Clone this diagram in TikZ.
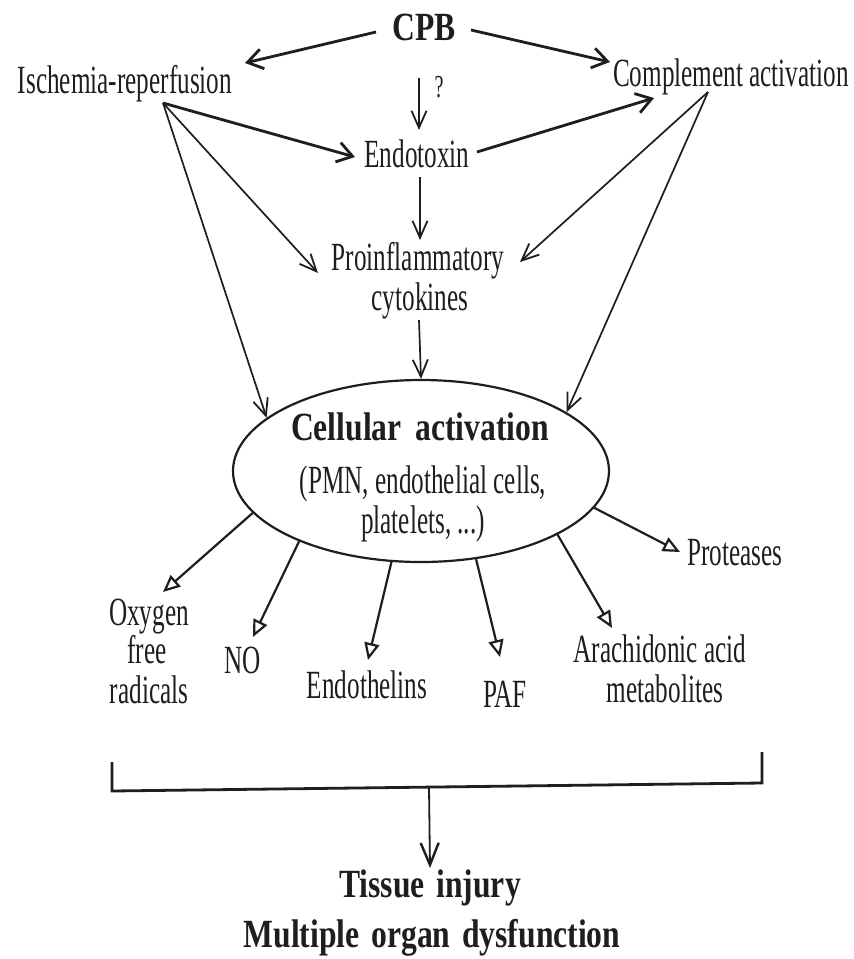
\documentclass[tikz,border=0pt]{standalone}
\usepackage{fontspec}
\usetikzlibrary{arrows.meta,shapes.geometric}
\newfontfamily\nfam[FakeStretch=0.63]{Liberation Serif}
\newfontfamily\bfam[FakeStretch=0.79]{Liberation Serif Bold}
\definecolor{ink}{HTML}{1E1E1E}
\tikzset{
  txt/.style={font=\nfam\fontsize{40}{40}\selectfont, inner sep=2pt, anchor=base, text=ink},
  btxt/.style={font=\bfam\fontsize{40}{40}\selectfont, inner sep=2pt, anchor=base, text=ink},
  qtxt/.style={font=\nfam\fontsize{32}{32}\selectfont, inner sep=1pt, anchor=base, text=ink},
  arrthick/.style={draw=ink, line width=2.8pt, -{Straight Barb[length=15pt,width=20pt,line width=2.8pt]}},
  arrthin/.style={draw=ink, line width=1.7pt, -{Straight Barb[length=17pt,width=15pt,line width=1.8pt]}},
  arrout/.style={draw=ink, line width=2.2pt, -{Triangle[open,length=17pt,width=15pt,line width=2.2pt]}},
  cellshape/.style={draw=ink, ellipse, line width=2.2pt, minimum width=376pt, minimum height=182pt, inner sep=0pt}
}
\begin{document}
\begin{tikzpicture}[x=1pt,y=-1pt]
\useasboundingbox[fill=white] (0,0) rectangle (854,959);
% top nodes
\node[btxt] (cpb) at (424,40) {CPB};
\node[txt] (isch) at (125,93) {Ischemia-reperfusion};
\node[txt] (compl) at (731,86) {Complement activation};
\node[qtxt] (q) at (439,97) {?};
\node[txt] (endo) at (417,167) {Endotoxin};
\node[txt] (proA) at (418,270) {Proinflammatory};
\node[txt] (proB) at (420,310) {cytokines};
% ellipse
\node[cellshape] (cell) at (421,471) {};
\node[btxt] (cellA) at (420,440) {Cellular\hspace{6pt} activation};
\node[txt] (cellB) at (423,493) {(PMN, endothelial cells,};
\node[txt] (cellC) at (423,533) {platelets, ...)};
% products
\node[txt] (oxA) at (149,625) {Oxygen};
\node[txt] (oxB) at (147,663) {free};
\node[txt] (oxC) at (149,703) {radicals};
\node[txt] (no) at (243,673) {NO};
\node[txt] (endth) at (367,698) {Endothelins};
\node[txt] (paf) at (505,707) {PAF};
\node[txt] (arA) at (660,662) {Arachidonic acid};
\node[txt] (arB) at (665,702) {metabolites};
\node[txt] (prot) at (735,565) {Proteases};
% outcome
\node[btxt] (tiss) at (430,897) {Tissue\hspace{4pt} injury};
\node[btxt] (mult) at (432,947) {Multiple\hspace{4pt} organ\hspace{4pt} dysfunction};
% connector end points
\coordinate (cpbL) at (376,32);
\coordinate (cpbR) at (471,30);
\coordinate (cpbD) at (419,78);
\coordinate (ischT) at (245,63);
\coordinate (complT) at (610,62);
\coordinate (endoT) at (419,130);
\coordinate (ischO) at (163,103);
\coordinate (endoL) at (355,157);
\coordinate (proL) at (318,273);
\coordinate (endoR) at (477,152);
\coordinate (complB) at (654,98);
\coordinate (complO) at (708,92);
\coordinate (proR) at (520,262);
\coordinate (endoB) at (420,177);
\coordinate (proT) at (420,240);
\coordinate (proB2) at (419,320);
\coordinate (oxT) at (163,592);
\coordinate (noT) at (253,637);
\coordinate (enT) at (368,660);
\coordinate (pafT) at (500,657);
\coordinate (arT) at (612,628);
\coordinate (prT) at (680,552);
\coordinate (brL) at (112,762);
\coordinate (brLb) at (112,791);
\coordinate (brRb) at (762,783);
\coordinate (brR) at (762,752);
\coordinate (brM) at (429,787);
% top connectors
\draw[arrthick] (cpbL) -- (ischT);
\draw[arrthick] (cpbR) -- (complT);
\draw[arrthin] (cpbD) -- (endoT);
\draw[arrthick] (ischO) -- (endoL);
\draw[arrthin] (ischO) -- (proL);
\draw[arrthin] (ischO) -- (cell.161.7);
\draw[arrthick] (endoR) -- (complB);
\draw[arrthin] (complO) -- (proR);
\draw[arrthin] (complO) -- (cell.22.4);
\draw[arrthin] (endoB) -- (proT);
\draw[arrthin] (proB2) -- (cell.north);
% bottom connectors
\draw[arrout] (cell.-166.4) -- (oxT);
\draw[arrout] (cell.-150.8) -- (noT);
\draw[arrout] (cell.-108.8) -- (enT);
\draw[arrout] (cell.-58.4) -- (pafT);
\draw[arrout] (cell.-25.4) -- (arT);
\draw[arrout] (cell.-12.6) -- (prT);
% bracket
\draw[draw=ink, line width=2.8pt, line join=miter] (brL) -- (brLb) -- (brRb) -- (brR);
\draw[draw=ink, line width=1.8pt, -{Straight Barb[length=22pt,width=18pt,line width=2.4pt]}] (brM) -- ([yshift=-1pt]tiss.north);
\end{tikzpicture}
\end{document}
